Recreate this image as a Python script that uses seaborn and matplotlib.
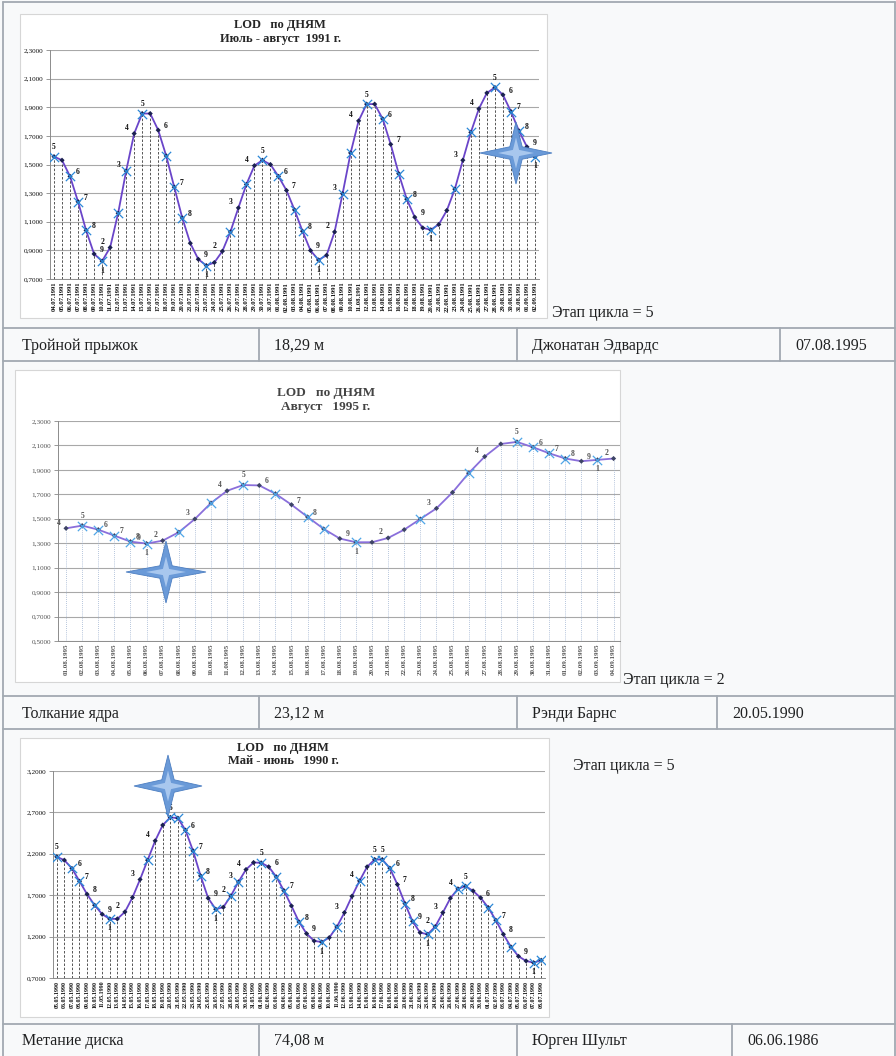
import numpy as np
import pandas as pd
import matplotlib.pyplot as plt
import seaborn as sns
from matplotlib.patches import Rectangle, Polygon
from matplotlib.lines import Line2D
from matplotlib.ticker import FuncFormatter

W, H = 896, 1056

# ---- chart 1: July - August 1991
dates_1991 = pd.date_range('1991-07-04', '1991-09-02').strftime('%d.%m.%Y').tolist()
lod_1991 = [1.555, 1.53, 1.417, 1.24, 1.04, 0.875, 0.825, 0.92, 1.16, 1.455,
            1.716, 1.856, 1.856, 1.74, 1.56, 1.342, 1.127, 0.95, 0.838, 0.794,
            0.815, 0.894, 1.029, 1.197, 1.361, 1.492, 1.53, 1.50, 1.417, 1.319,
            1.183, 1.034, 0.899, 0.833, 0.866, 1.029, 1.296, 1.581, 1.805, 1.922,
            1.922, 1.819, 1.641, 1.436, 1.258, 1.132, 1.057, 1.044, 1.081, 1.179,
            1.328, 1.53, 1.725, 1.889, 2.0, 2.038, 1.987, 1.87, 1.735, 1.623, 1.553]
phase_idx_1991 = [0, 2, 3, 4, 5, 6, 7, 9, 10, 11, 13, 15, 16, 18, 19, 21, 23, 25, 26, 28,
                  29, 31, 32, 33, 35, 36, 38, 39, 41, 42, 44, 45, 47, 51, 53, 55, 56, 57, 58, 59, 60]
phase_txt_1991 = ['5', '6', '7', '8', '9', '1', '2', '3', '4', '5', '6', '7', '8', '9', '1', '2', '3', '4', '5', '6',
                  '7', '8', '9', '1', '2', '3', '4', '5', '6', '7', '8', '9', '1', '3', '4', '5', '6', '7', '8', '9', '1']
cross_1991 = [0, 2, 3, 4, 6, 8, 9, 11, 14, 15, 16, 19, 22, 24, 26, 28, 30, 31, 33, 36,
              37, 39, 41, 43, 44, 47, 50, 52, 55, 57, 58, 60]
yticks_1991 = [0.7, 0.9, 1.1, 1.3, 1.5, 1.7, 1.9, 2.1, 2.3]

# ---- chart 2: August 1995
dates_1995 = pd.date_range('1995-08-01', '1995-09-04').strftime('%d.%m.%Y').tolist()
lod_1995 = [1.422, 1.444, 1.411, 1.362, 1.313, 1.297, 1.321, 1.39, 1.498, 1.629,
            1.729, 1.776, 1.773, 1.705, 1.615, 1.515, 1.417, 1.338, 1.308, 1.308,
            1.343, 1.411, 1.498, 1.585, 1.716, 1.873, 2.009, 2.112, 2.129, 2.085,
            2.036, 1.993, 1.971, 1.982, 1.993]
phase_idx_1995 = [0, 1, 2, 3, 4, 5, 5, 6, 8, 10, 11, 12, 14, 15, 17, 18, 20, 23, 26, 28,
                  29, 30, 31, 32, 33, 34]
phase_txt_1995 = ['4', '5', '6', '7', '8', '9', '1', '2', '3', '4', '5', '6', '7', '8', '9', '1', '2', '3', '4', '5',
                  '6', '7', '8', '9', '1', '2']
cross_1995 = [1, 2, 3, 4, 5, 7, 9, 11, 13, 15, 16, 18, 22, 25, 28, 29, 30, 31, 33]
yticks_1995 = [0.5, 0.7, 0.9, 1.1, 1.3, 1.5, 1.7, 1.9, 2.1, 2.3]

# ---- chart 3: May - June 1990
dates_1990 = pd.date_range('1990-05-05', '1990-07-08').strftime('%d.%m.%Y').tolist()
lod_1990 = [2.164, 2.123, 2.023, 1.869, 1.712, 1.579, 1.470, 1.414, 1.414, 1.498,
            1.672, 1.89, 2.123, 2.357, 2.547, 2.64, 2.631, 2.486, 2.236, 1.934,
            1.664, 1.531, 1.555, 1.692, 1.861, 2.01, 2.095, 2.091, 2.043, 1.922,
            1.756, 1.571, 1.377, 1.236, 1.148, 1.135, 1.188, 1.317, 1.49, 1.688,
            1.873, 2.043, 2.131, 2.131, 2.027, 1.829, 1.599, 1.385, 1.248, 1.228,
            1.321, 1.49, 1.664, 1.777, 1.809, 1.752, 1.668, 1.551, 1.398, 1.228,
            1.075, 0.962, 0.906, 0.885, 0.914]
phase_idx_1990 = [0, 2, 3, 4, 6, 7, 9, 11, 13, 15, 17, 18, 19, 20, 21, 23, 24, 25, 27, 28,
                  30, 32, 33, 35, 38, 40, 42, 43, 44, 45, 46, 47, 49, 50, 51, 53, 54, 56, 58, 59, 61, 63]
phase_txt_1990 = ['5', '6', '7', '8', '9', '1', '2', '3', '4', '5', '6', '7', '8', '9', '1', '2', '3', '4', '5', '6',
                  '7', '8', '9', '1', '3', '4', '5', '5', '6', '7', '8', '9', '1', '2', '3', '4', '5', '6', '7', '8', '9', '1']
cross_1990 = [0, 2, 3, 5, 7, 12, 15, 16, 17, 18, 19, 21, 23, 24, 27, 29, 30, 32, 35, 37,
              40, 42, 43, 44, 46, 47, 49, 50, 53, 54, 57, 58, 60, 63, 64]
yticks_1990 = [0.7, 1.2, 1.7, 2.2, 2.7, 3.2]

# ---- table rows
rows = [
    ['Тройной прыжок', '18,29 м', 'Джонатан Эдвардс', '07.08.1995'],
    ['Толкание ядра', '23,12 м', 'Рэнди Барнс', '20.05.1990'],
    ['Метание диска', '74,08 м', 'Юрген Шульт', '06.06.1986'],
]
stage_text = ['Этап цикла = 5', 'Этап цикла = 2', 'Этап цикла = 5']

sns.set_theme(style='white')
plt.rcParams['font.family'] = ['Liberation Serif', 'DejaVu Serif']

fig = plt.figure(figsize=(W / 100, H / 100), dpi=100, facecolor='#f8f9fa')
BORDER = '#a2a9b1'


def fx(x):
    return x / W


def fy(y):
    return 1 - y / H


def px_box(l, t, r, b):
    return [fx(l), fy(b), (r - l) / W, (b - t) / H]


def hline(y, x0, x1):
    fig.add_artist(Line2D([fx(x0), fx(x1)], [fy(y), fy(y)], color=BORDER, lw=1.3))


def vline(x, y0, y1):
    fig.add_artist(Line2D([fx(x), fx(x)], [fy(y0), fy(y1)], color=BORDER, lw=1.3))


def white_box(l, t, r, b):
    fig.add_artist(Rectangle((fx(l), fy(b)), (r - l) / W, (b - t) / H, transform=fig.transFigure,
                             facecolor='white', edgecolor='#d6d6d6', lw=0.8, zorder=0))


def star(cx, cy, rx, ry):
    # decorative four-pointed star drawn over the chart picture
    for k, col in [(1.0, '#6a9ad8'), (0.5, '#a8c7ee')]:
        a, b = rx * k, ry * k
        w = 0.2 * min(rx, ry) * k
        pts = [(cx + a, cy), (cx + w, cy - w), (cx, cy - b), (cx - w, cy - w),
               (cx - a, cy), (cx - w, cy + w), (cx, cy + b), (cx + w, cy + w)]
        fig.add_artist(Polygon([(fx(p), fy(q)) for p, q in pts], closed=True,
                               transform=fig.transFigure, facecolor=col,
                               edgecolor='#4d7fc2' if k == 1 else 'none', lw=0.6, zorder=20))


def lod_chart(rect, dates, vals, p_idx, p_txt, crosses, yticks, xmax, style):
    ax = fig.add_axes(rect)
    ax.set_facecolor('white')
    x = np.arange(len(vals))
    df = pd.DataFrame({'day': x, 'lod': vals})
    ylo = yticks[0]
    for y in yticks:
        ax.axhline(y, color='#a8a8a8', lw=0.8, zorder=0)
    ax.vlines(x, ylo, vals, colors=style['drop'], linestyles=style['drop_ls'], lw=0.6, zorder=1)
    sns.lineplot(data=df, x='day', y='lod', ax=ax, color=style['line'], lw=1.3, zorder=3)
    sns.scatterplot(data=df, x='day', y='lod', ax=ax, marker='D', s=7, color=style['dot'],
                    edgecolor='none', zorder=4)
    sns.scatterplot(data=df.iloc[crosses], x='day', y='lod', ax=ax, marker='x', s=45,
                    color=style['cross'], linewidth=0.9, zorder=5)
    slope = np.gradient(np.array(vals))
    for i, t in zip(p_idx, p_txt):
        if t == '1':
            off, ha, va = (0, -4), 'center', 'top'
        elif t == '5':
            off, ha, va = (0, 4), 'center', 'bottom'
        elif slope[i] > 0:
            off, ha, va = (-4, 4), 'right', 'center'
        else:
            off, ha, va = (4, 3), 'left', 'center'
        ax.annotate(t, (i, vals[i]), xytext=off, textcoords='offset points', ha=ha, va=va,
                    fontsize=style['lab'], fontweight='bold', color=style['text'], zorder=6)
    ax.set_xlim(-0.5, xmax)
    ax.set_ylim(yticks[0], yticks[-1])
    ax.set_xticks(x)
    ax.set_xticklabels(dates, rotation=90, fontsize=style['xt'], fontweight='bold', color=style['text'])
    ax.set_yticks(yticks)
    ax.yaxis.set_major_formatter(FuncFormatter(lambda v, p: f'{v:.4f}'.replace('.', ',')))
    ax.tick_params(axis='y', labelsize=style['yt'], length=3, width=0.6, color='#888888',
                   labelcolor=style['text'], pad=2, left=True)
    ax.tick_params(axis='x', length=0, pad=2)
    ax.set_xlabel('')
    ax.set_ylabel('')
    for s in ['top', 'right']:
        ax.spines[s].set_visible(False)
    for s in ['left', 'bottom']:
        ax.spines[s].set_color('#8c8c8c')
        ax.spines[s].set_linewidth(0.7)
    return ax


dark = dict(line='#6a45c9', dot='#1b2150', cross='#2b88d8', drop='#3c3c3c', drop_ls=(0, (3, 2)),
            text='#111111', lab=5.5, xt=4.8, yt=5.2)
light = dict(line='#8a6fdb', dot='#3d4466', cross='#4fa6e8', drop='#9db2d0', drop_ls=(0, (1, 1.5)),
             text='#555555', lab=5.5, xt=5.0, yt=5.2)
dark3 = dict(dark, xt=4.3)

# image backgrounds
white_box(20, 14, 547, 318)
white_box(15, 370, 620, 682)
white_box(20, 738, 549, 1017)

lod_chart(px_box(50, 50, 539, 279), dates_1991, lod_1991, phase_idx_1991, phase_txt_1991,
          cross_1991, yticks_1991, len(lod_1991) - 0.5, dark)
lod_chart(px_box(58, 421, 620, 641), dates_1995, lod_1995, phase_idx_1995, phase_txt_1995,
          cross_1995, yticks_1995, len(lod_1995) - 0.6, light)
lod_chart(px_box(53, 771, 545, 978), dates_1990, lod_1990, phase_idx_1990, phase_txt_1990,
          cross_1990, yticks_1990, len(lod_1990) - 0.5, dark3)

# chart titles
fig.text(fx(280), fy(25), 'LOD   по ДНЯМ', ha='center', va='center', fontsize=9, fontweight='bold')
fig.text(fx(280), fy(39), 'Июль - август  1991 г.', ha='center', va='center', fontsize=9, fontweight='bold')
fig.text(fx(326), fy(393), 'LOD   по ДНЯМ', ha='center', va='center', fontsize=9.5, fontweight='bold',
         color='#444444')
fig.text(fx(326), fy(407), 'Август   1995 г.', ha='center', va='center', fontsize=9.5, fontweight='bold',
         color='#444444')
fig.text(fx(283), fy(748), 'LOD   по ДНЯМ', ha='center', va='center', fontsize=9, fontweight='bold')
fig.text(fx(283), fy(761), 'Май - июнь   1990 г.', ha='center', va='center', fontsize=9, fontweight='bold')

# stars
star(516, 153, 36, 31)
star(166, 572, 40, 31)
star(168, 786, 34, 31)

# stage text
for (x, y), t in zip([(552, 313), (623, 680), (573, 766)], stage_text):
    fig.text(fx(x), fy(y), t, ha='left', va='center', fontsize=11.5, color='#202122')

# table grid
for y in [2, 328, 361, 696, 729, 1024]:
    hline(y, 3, 895)
vline(3, 2, 1056)
vline(895, 2, 1056)
row_spans = [(328, 361), (696, 729), (1024, 1056)]
last_cols = [780, 717, 732]
for (y0, y1), lc, texts in zip(row_spans, last_cols, rows):
    cols = [3, 259, 517, lc]
    for c in cols[1:]:
        vline(c, y0, y1)
    ym = (y0 + y1) / 2 + 1
    for c, t in zip(cols, texts):
        pad = 19 if c == 3 else 15
        fig.text(fx(c + pad), fy(ym), t, ha='left', va='center', fontsize=11.5, color='#202122')

fig.savefig('out.png', dpi=100, facecolor=fig.get_facecolor())
